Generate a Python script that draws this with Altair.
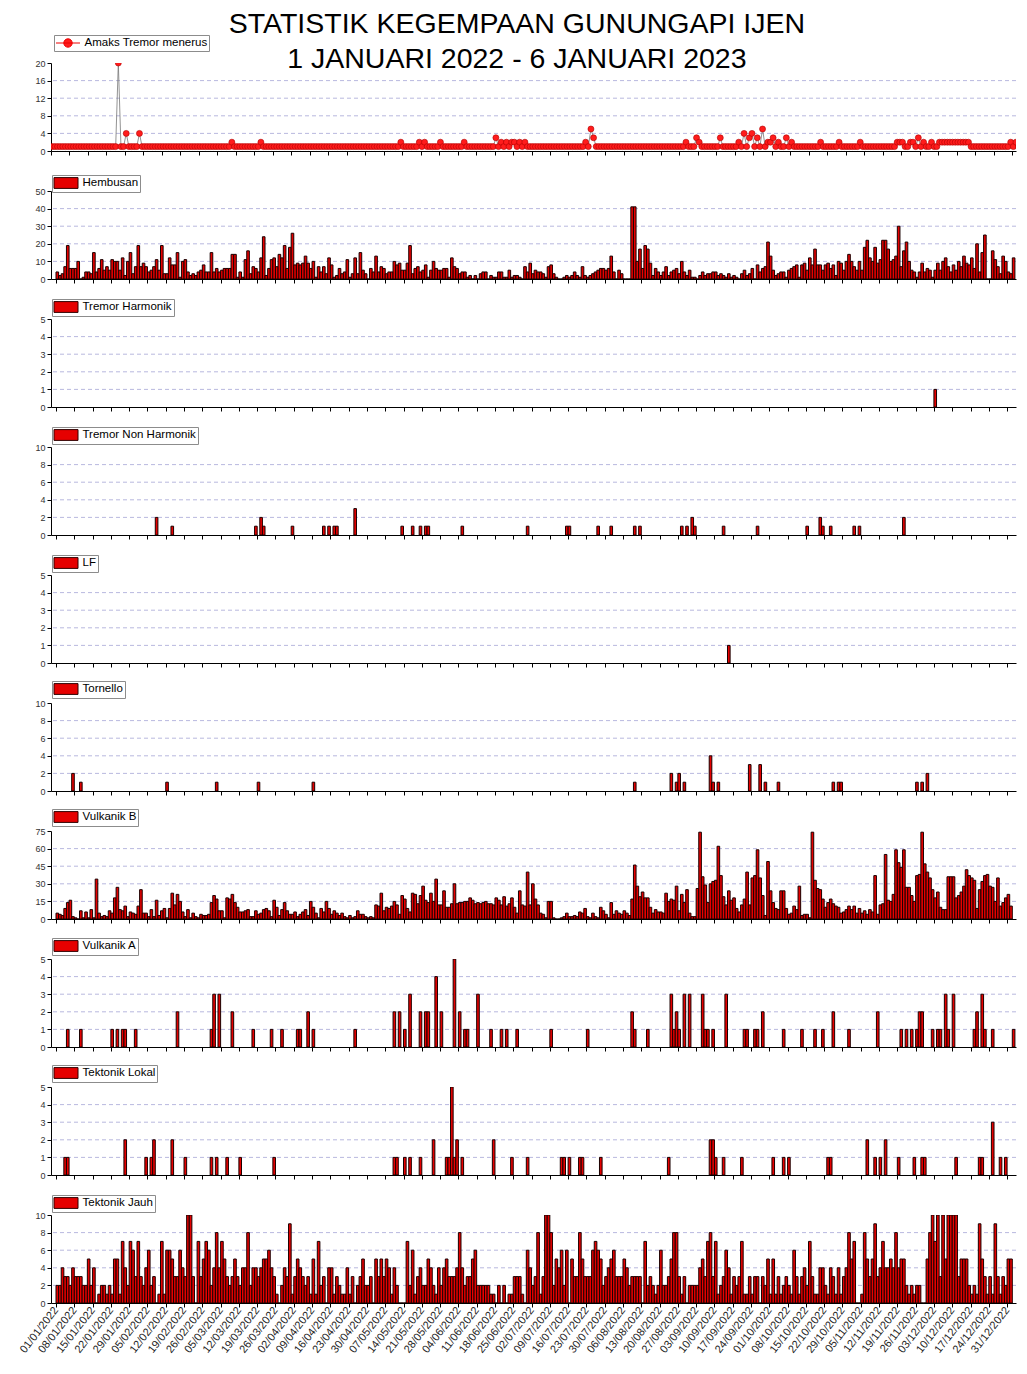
import altair as alt
import pandas as pd

START = "2022-01-01"

tick_labels = [
    "01/01/2022", "08/01/2022", "15/01/2022", "22/01/2022", "29/01/2022",
    "05/02/2022", "12/02/2022", "19/02/2022", "26/02/2022",
    "05/03/2022", "12/03/2022", "19/03/2022", "26/03/2022",
    "02/04/2022", "09/04/2022", "16/04/2022", "23/04/2022", "30/04/2022",
    "07/05/2022", "14/05/2022", "21/05/2022", "28/05/2022",
    "04/06/2022", "11/06/2022", "18/06/2022", "25/06/2022",
    "02/07/2022", "09/07/2022", "16/07/2022", "23/07/2022", "30/07/2022",
    "06/08/2022", "13/08/2022", "20/08/2022", "27/08/2022",
    "03/09/2022", "10/09/2022", "17/09/2022", "24/09/2022",
    "01/10/2022", "08/10/2022", "15/10/2022", "22/10/2022", "29/10/2022",
    "05/11/2022", "12/11/2022", "19/11/2022", "26/11/2022",
    "03/12/2022", "10/12/2022", "17/12/2022", "24/12/2022", "31/12/2022",
]

# ---- daily series (from 01/01/2022) ----
amaks = [
    1, 1, 1, 1, 1, 1, 1, 1, 1, 1,
    1, 1, 1, 1, 1, 1, 1, 1, 1, 1,
    1, 1, 1, 1, 1, 20, 1, 1, 4, 1,
    1, 1, 1, 4, 1, 1, 1, 1, 1, 1,
    1, 1, 1, 1, 1, 1, 1, 1, 1, 1,
    1, 1, 1, 1, 1, 1, 1, 1, 1, 1,
    1, 1, 1, 1, 1, 1, 1, 1, 2, 1,
    1, 1, 1, 1, 1, 1, 1, 1, 1, 2,
    1, 1, 1, 1, 1, 1, 1, 1, 1, 1,
    1, 1, 1, 1, 1, 1, 1, 1, 1, 1,
    1, 1, 1, 1, 1, 1, 1, 1, 1, 1,
    1, 1, 1, 1, 1, 1, 1, 1, 1, 1,
    1, 1, 1, 1, 1, 1, 1, 1, 1, 1,
    1, 1, 2, 1, 1, 1, 1, 1, 1, 2,
    1, 2, 1, 1, 1, 1, 1, 2, 1, 1,
    1, 1, 1, 1, 1, 1, 2, 1, 1, 1,
    1, 1, 1, 1, 1, 1, 1, 1, 3, 1,
    2, 1, 2, 1, 2, 2, 1, 2, 1, 2,
    1, 1, 1, 1, 1, 1, 1, 1, 1, 1,
    1, 1, 1, 1, 1, 1, 1, 1, 1, 1,
    1, 1, 2, 1, 5, 3, 1, 1, 1, 1,
    1, 1, 1, 1, 1, 1, 1, 1, 1, 1,
    1, 1, 1, 1, 1, 1, 1, 1, 1, 1,
    1, 1, 1, 1, 1, 1, 1, 1, 1, 1,
    2, 1, 1, 1, 3, 2, 1, 1, 1, 1,
    1, 1, 1, 3, 1, 1, 1, 1, 1, 1,
    2, 1, 4, 1, 3, 4, 1, 3, 1, 5,
    1, 2, 2, 3, 1, 2, 1, 1, 3, 1,
    2, 1, 1, 1, 1, 1, 1, 1, 1, 1,
    1, 2, 1, 1, 1, 1, 1, 1, 2, 1,
    1, 1, 1, 1, 1, 1, 2, 1, 1, 1,
    1, 1, 1, 1, 1, 1, 1, 1, 1, 1,
    2, 2, 2, 1, 1, 2, 2, 1, 3, 1,
    2, 1, 1, 2, 1, 1, 2, 2, 2, 2,
    2, 2, 2, 2, 2, 2, 2, 2, 1, 1,
    1, 1, 1, 1, 1, 1, 1, 1, 1, 1,
    1, 1, 1, 2, 1, 2, 1, 1,
]

hembusan = [
    4, 2, 3, 7, 19, 6, 6, 6, 10, 0,
    1, 4, 4, 3, 15, 4, 6, 11, 5, 7,
    5, 11, 10, 10, 5, 12, 2, 10, 15, 3,
    7, 19, 7, 9, 7, 4, 5, 7, 11, 5,
    19, 3, 3, 12, 8, 8, 15, 1, 10, 11,
    4, 2, 3, 2, 4, 5, 8, 4, 4, 15,
    4, 6, 4, 5, 6, 6, 6, 14, 14, 1,
    4, 1, 11, 16, 3, 7, 6, 4, 12, 24,
    2, 6, 11, 12, 7, 14, 12, 19, 6, 18,
    26, 8, 9, 8, 9, 13, 9, 6, 10, 1,
    7, 4, 7, 3, 12, 8, 1, 2, 6, 3,
    4, 11, 1, 3, 12, 3, 15, 5, 3, 0,
    6, 4, 13, 4, 7, 6, 3, 4, 4, 10,
    8, 9, 5, 5, 9, 19, 3, 6, 7, 4,
    5, 8, 1, 5, 10, 6, 5, 5, 6, 6,
    1, 12, 7, 6, 3, 4, 4, 1, 2, 0,
    2, 0, 3, 4, 4, 0, 2, 1, 1, 4,
    4, 1, 1, 5, 1, 2,
    2, 1, 0, 7, 4, 9, 3, 5, 4, 4,
    3, 1, 7, 8, 3, 1, 0, 0, 1, 2,
    1, 2, 4, 2, 1, 7, 2, 1, 2, 3,
    4, 5, 6, 6, 5, 6, 13, 4, 0, 5,
    3, 0, 0, 0, 41, 41, 10, 17, 6, 19,
    17, 9, 2, 6, 4, 2, 4, 7, 2, 4,
    5, 6, 3, 10, 4, 2, 5, 1, 1, 0,
    2, 4, 2, 3, 3, 4, 4, 2, 3, 2,
    1, 3, 1, 2, 1, 0, 3, 5, 2, 3,
    6, 0, 8, 4, 6, 7, 21, 13, 5, 2,
    3, 4, 4, 1, 5, 6, 7, 8, 1, 8,
    9, 5, 12, 8, 17, 8, 8, 5, 8, 9,
    6, 8, 2, 10, 9, 5, 10, 14, 10, 7,
    5, 10, 5, 18, 22, 12, 10, 18, 9, 11,
    22, 22, 17, 10, 11, 13, 30, 7, 16, 21,
    10, 5, 4, 1, 4, 9, 4, 6, 5, 1,
    5, 9, 5, 10, 12, 7, 4, 8, 5, 10,
    7, 13, 9, 8, 12, 6, 20, 4, 15, 25,
    0, 0, 16, 11, 7, 3, 13, 10, 4, 3,
    12,
]

vulkanik_b = [
    5, 4, 3, 9, 14, 16, 2, 1, 0, 7,
    1, 6, 1, 8, 1, 34, 5, 2, 3, 2,
    7, 5, 18, 27, 8, 7, 11, 2, 6, 5,
    4, 11, 25, 5, 5, 2, 8, 2, 16, 3,
    7, 9, 1, 9, 22, 12, 21, 15, 6, 2,
    8, 1, 5, 2, 1, 4, 3, 3, 4, 14,
    20, 17, 7, 7, 1, 18, 17, 21, 14, 10,
    6, 6, 7, 8, 2, 2, 7, 4, 5, 8,
    9, 7, 2, 16, 10, 3, 8, 14, 7, 4,
    4, 6, 2, 4, 6, 8, 3, 15, 10, 5,
    1, 9, 6, 15, 9, 4, 7, 5, 3, 5,
    2, 1, 3, 1, 2, 7, 4, 4, 2, 1,
    2, 1, 12, 11, 22, 7, 10, 9, 11, 15,
    12, 4, 20, 17, 9, 6, 22, 21, 13, 20,
    28, 16, 14, 22, 15, 34, 12, 12, 24, 10,
    10, 13, 30, 13, 14, 14, 15, 15, 18, 16,
    13, 14, 13, 14, 15, 13, 13, 12, 18, 16,
    12, 19, 11, 13, 18, 10,
    5, 24, 12, 11, 40, 12, 30, 17, 12, 5,
    4, 1, 15, 15, 1, 0, 0, 1, 2, 5,
    2, 2, 3, 2, 6, 5, 9, 2, 1, 5,
    2, 1, 10, 7, 4, 1, 14, 4, 7, 5,
    4, 7, 5, 3, 17, 46, 28, 19, 23, 18,
    18, 10, 5, 8, 6, 6, 5, 22, 15, 17,
    16, 28, 7, 21, 14, 25, 5, 2, 2, 26,
    74, 36, 29, 14, 30, 32, 33, 62, 37, 19,
    12, 24, 16, 18, 9, 6, 12, 17, 40, 12,
    35, 37, 59, 35, 20, 3, 49, 24, 14, 9,
    8, 24, 24, 9, 4, 5, 11, 8, 28, 3,
    4, 4, 1, 74, 33, 26, 25, 17, 10, 14,
    17, 13, 11, 10, 5, 6, 8, 11, 8, 11,
    5, 9, 5, 7, 4, 8, 6, 37, 4, 12,
    13, 55, 16, 15, 21, 59, 48, 44, 59, 27,
    27, 20, 15, 37, 38, 74, 47, 40, 35, 25,
    18, 23, 10, 8, 8, 36, 36, 36, 18, 20,
    23, 28, 42, 37, 35, 33, 9, 25, 32, 37,
    38, 28, 27, 15, 35, 11, 14, 18, 21, 11,
]

tektonik_jauh = [
    2, 2, 4, 3, 3, 2, 4, 3, 3, 3,
    2, 2, 5, 2, 4, 0, 1, 2, 2, 1,
    2, 1, 5, 5, 1, 7, 4, 2, 7, 6,
    3, 7, 3, 2, 4, 6, 2, 3, 0, 1,
    7, 1, 6, 6, 5, 3, 3, 6, 4, 3,
    10, 10, 3, 0, 7, 3, 5, 7, 6, 2,
    4, 8, 4, 7, 5, 3, 2, 3, 5, 3,
    2, 4, 4, 8, 2, 4, 4, 3, 4, 5,
    5, 6, 4, 3, 1, 0, 2, 4, 3, 9,
    1, 3, 5, 4, 3, 2, 3, 1, 5, 1,
    7, 2, 3, 0, 4, 4, 1, 3, 2, 1,
    1, 4, 1, 3, 0, 2, 3, 5, 2, 2,
    3, 0, 5, 3, 5, 3, 5, 4, 1, 4,
    2, 0, 0, 0, 7, 2, 6, 1, 3, 4,
    2, 2, 5, 4, 2, 1, 4, 2, 4, 5,
    3, 3, 3, 4, 8, 4, 2, 3, 3, 5,
    6, 2, 2, 2, 2, 2, 1, 1, 0, 2,
    0, 2, 0, 1, 1, 3,
    3, 3, 1, 0, 6, 4, 2, 3, 8, 1,
    3, 10, 10, 8, 2, 5, 4, 6, 2, 6,
    0, 5, 3, 3, 8, 5, 3, 3, 3, 6,
    7, 6, 5, 2, 3, 4, 5, 6, 3, 3,
    3, 5, 4, 2, 3, 3, 3, 3, 0, 7,
    2, 3, 2, 1, 2, 6, 2, 2, 3, 5,
    8, 8, 3, 1, 3, 0, 2, 2, 2, 2,
    4, 5, 3, 7, 8, 3, 7, 1, 2, 3,
    6, 4, 1, 3, 2, 3, 7, 1, 1, 3,
    1, 3, 3, 0, 3, 2, 5, 1, 5, 1,
    3, 1, 2, 3, 2, 1, 6, 3, 1, 3,
    4, 2, 7, 3, 1, 1, 4, 4, 2, 1,
    4, 3, 1, 4, 1, 3, 4, 8, 5, 7,
    0, 0, 1, 8, 5, 3, 5, 9, 3, 4,
    7, 4, 4, 5, 4, 8, 4, 5, 5, 2,
    1, 2, 1, 2, 2, 0, 0, 5, 8, 10,
    7, 10, 3, 10, 5, 10, 10, 10, 10, 3,
    5, 5, 5, 2, 1, 2, 1, 9, 5, 3,
    1, 3, 1, 9, 3, 1, 3, 2, 5, 5,
]

# ---- sparse series (days with events) ----
th_dates = ["2022-12-03"]
th_vals = [1]

tnh_dates = ["2022-02-08", "2022-02-14", "2022-03-18", "2022-03-20", "2022-03-21",
             "2022-04-01", "2022-04-13", "2022-04-15", "2022-04-17", "2022-04-18",
             "2022-04-25", "2022-05-13", "2022-05-17", "2022-05-20", "2022-05-22",
             "2022-05-23", "2022-06-05", "2022-06-30", "2022-07-15", "2022-07-16",
             "2022-07-27", "2022-08-01", "2022-08-10", "2022-08-12", "2022-08-28",
             "2022-08-30", "2022-09-01", "2022-09-02", "2022-09-13", "2022-09-26",
             "2022-10-15", "2022-10-20", "2022-10-21", "2022-10-24", "2022-11-02",
             "2022-11-04", "2022-11-21"]
tnh_vals = [2, 1, 1, 2, 1, 1, 1, 1, 1, 1, 3, 1, 1, 1, 1, 1, 1, 1, 1, 1,
            1, 1, 1, 1, 1, 1, 2, 1, 1, 1, 1, 2, 1, 1, 1, 1, 2]

lf_dates = ["2022-09-15"]
lf_vals = [1]

tornello_dates = ["2022-01-07", "2022-01-10", "2022-02-12", "2022-03-03", "2022-03-19",
                  "2022-04-09", "2022-08-10", "2022-08-24", "2022-08-26", "2022-08-27",
                  "2022-08-29", "2022-09-08", "2022-09-09", "2022-09-11", "2022-09-23",
                  "2022-09-27", "2022-09-29", "2022-10-04", "2022-10-25", "2022-10-27",
                  "2022-10-28", "2022-11-26", "2022-11-28", "2022-11-30"]
tornello_vals = [2, 1, 1, 1, 1, 1, 1, 2, 1, 2, 1, 4, 1, 1, 3, 3, 1, 1, 1, 1, 1, 1, 1, 2]

va_dates = ["2022-01-05", "2022-01-10", "2022-01-22", "2022-01-24", "2022-01-26",
            "2022-01-27", "2022-01-31", "2022-02-16", "2022-03-01", "2022-03-02",
            "2022-03-04", "2022-03-09", "2022-03-17", "2022-03-24", "2022-03-28",
            "2022-04-03", "2022-04-04", "2022-04-07", "2022-04-09", "2022-04-25",
            "2022-05-10", "2022-05-12", "2022-05-14", "2022-05-16", "2022-05-20",
            "2022-05-22", "2022-05-23", "2022-05-26", "2022-05-28", "2022-06-02",
            "2022-06-04", "2022-06-06", "2022-06-07", "2022-06-11", "2022-06-16",
            "2022-06-20", "2022-06-22", "2022-06-26", "2022-07-09", "2022-07-23",
            "2022-08-09", "2022-08-10", "2022-08-15", "2022-08-24", "2022-08-25",
            "2022-08-26", "2022-08-27", "2022-08-29", "2022-08-31", "2022-09-05",
            "2022-09-06", "2022-09-07", "2022-09-09", "2022-09-14", "2022-09-21",
            "2022-09-22", "2022-09-25", "2022-09-26", "2022-09-28", "2022-10-06",
            "2022-10-13", "2022-10-18", "2022-10-21", "2022-10-25", "2022-10-31",
            "2022-11-11", "2022-11-20", "2022-11-22", "2022-11-24", "2022-11-26",
            "2022-11-27", "2022-11-28", "2022-12-02", "2022-12-04", "2022-12-05",
            "2022-12-07", "2022-12-08", "2022-12-10", "2022-12-18", "2022-12-19",
            "2022-12-21", "2022-12-22", "2022-12-25", "2023-01-02"]
va_vals = [1, 1, 1, 1, 1, 1, 1, 2, 1, 3,
           3, 2, 1, 1, 1, 1, 1, 2, 1, 1,
           2, 2, 1, 3, 2, 2, 2, 4, 2, 5,
           2, 1, 1, 3, 1, 1, 1, 1, 1, 1,
           2, 1, 1, 3, 1, 2, 1, 3, 3, 3,
           1, 1, 1, 3, 1, 1, 1, 1, 2, 1,
           1, 1, 1, 2, 1, 2, 1, 1, 1, 1,
           2, 2, 1, 1, 1, 3, 1, 3, 1, 2,
           3, 1, 1, 1]

tl_dates = ["2022-01-04", "2022-01-05", "2022-01-27", "2022-02-04", "2022-02-06",
            "2022-02-07", "2022-02-14", "2022-02-19", "2022-03-01", "2022-03-03",
            "2022-03-07", "2022-03-12", "2022-03-25", "2022-05-10", "2022-05-11",
            "2022-05-14", "2022-05-16", "2022-05-20", "2022-05-25", "2022-05-30",
            "2022-05-31", "2022-06-01", "2022-06-02", "2022-06-03", "2022-06-05",
            "2022-06-17", "2022-06-24", "2022-06-30", "2022-07-13", "2022-07-14",
            "2022-07-16", "2022-07-20", "2022-07-21", "2022-07-28", "2022-08-23",
            "2022-09-08", "2022-09-09", "2022-09-10", "2022-09-13", "2022-09-20",
            "2022-10-02", "2022-10-06", "2022-10-08", "2022-10-23", "2022-10-24",
            "2022-11-07", "2022-11-10", "2022-11-12", "2022-11-14", "2022-11-19",
            "2022-11-25", "2022-11-28", "2022-11-29", "2022-12-11", "2022-12-20",
            "2022-12-21", "2022-12-25", "2022-12-28", "2022-12-30"]
tl_vals = [1, 1, 2, 1, 1, 2, 2, 1, 1, 1,
           1, 1, 1, 1, 1, 1, 1, 1, 2, 1,
           1, 5, 1, 2, 1, 2, 1, 1, 1, 1,
           1, 1, 1, 1, 1, 2, 2, 1, 1, 1,
           1, 1, 1, 1, 1, 2, 1, 1, 2, 1,
           1, 1, 1, 1, 1, 1, 3, 1, 1]


def daily(vals, name):
    d = pd.date_range(START, periods=len(vals), freq="D")
    return pd.DataFrame({"date": d, "end": d + pd.Timedelta(days=1),
                         "mid": d + pd.Timedelta(hours=12), "value": vals, "series": name})


def sparse(dates, vals, name):
    d = pd.to_datetime(pd.Series(dates))
    return pd.DataFrame({"date": d, "end": d + pd.Timedelta(days=1),
                         "mid": d + pd.Timedelta(hours=12), "value": vals, "series": name})


W, H = 965, 88
FONT = "Liberation Sans"
XDOM = [alt.DateTime(year=2022, month=1, date=1),
        alt.DateTime(year=2023, month=1, date=1, hours=12)]
tick_dt = [alt.DateTime(year=int(s[6:]), month=int(s[3:5]), date=int(s[:2])) for s in tick_labels]

RECT = "M-2,-0.9L2,-0.9L2,0.9L-2,0.9Z"
LINE_DOT = "M-2,0L2,0M-0.7,0A0.7,0.7,0,1,0,0.7,0A0.7,0.7,0,1,0,-0.7,0Z"


def x_enc(field, last):
    return alt.X(f"{field}:T", scale=alt.Scale(domain=XDOM),
                 axis=alt.Axis(values=tick_dt, format="%d/%m/%Y", title=None, labels=last,
                               grid=False, tickSize=4, labelAngle=308, labelAlign="right",
                               labelBaseline="middle", labelFontSize=11, labelOverlap=False,
                               labelPadding=1, labelFlush=False, labelBound=False,
                               labelColor="#222"))


def y_enc(ymax, ticks):
    return alt.Y("value:Q", scale=alt.Scale(domain=[0, ymax], nice=False, zero=True),
                 axis=alt.Axis(values=ticks, title=None, grid=False, tickSize=4,
                               labelFontSize=9, labelPadding=2, labelColor="#333"))


def legend(ly, lx=1, symbol=RECT, stroke="#300000"):
    return alt.Legend(orient="none", legendX=lx, legendY=ly, title=None,
                      symbolType=symbol, symbolSize=144, symbolOffset=6, labelOffset=10,
                      padding=1.5, strokeColor="#8c8c8c", fillColor="white",
                      labelFontSize=11.5, labelFont=FONT, labelColor="black",
                      symbolStrokeColor=stroke, symbolStrokeWidth=1, labelLimit=400)


def grid_layer(ymax, ticks):
    g = pd.DataFrame({"value": [t for t in ticks if 0 < t < ymax]})
    return alt.Chart(g).mark_rule(strokeDash=[4, 3], color="#a6a6d6", strokeWidth=0.8).encode(
        y=y_enc(ymax, ticks))


def bar_panel(df, ymax, ticks, ly, last=False):
    bars = alt.Chart(df).mark_bar(stroke="#1a0000", strokeWidth=1.0, clip=True,
                                  orient="vertical").encode(
        x=x_enc("date", last), x2="end:T",
        y=y_enc(ymax, ticks), y2=alt.datum(0),
        color=alt.Color("series:N", scale=alt.Scale(range=["#e60000"]), legend=legend(ly)),
    )
    return alt.layer(grid_layer(ymax, ticks), bars).properties(width=W, height=H)


# Amaks panel
amaks_df = daily(amaks, "Amaks Tremor menerus")
am_ticks = [0, 4, 8, 12, 16, 20]
am_line = alt.Chart(amaks_df).mark_line(color="#777777", strokeWidth=0.8, clip=True).encode(
    x=x_enc("mid", False), y=y_enc(20, am_ticks))
am_pts = alt.Chart(amaks_df).mark_point(filled=True, size=36, opacity=1, stroke="#b00000",
                                        strokeWidth=0.6, clip=True).encode(
    x=x_enc("mid", False), y=y_enc(20, am_ticks),
    color=alt.Color("series:N", scale=alt.Scale(range=["#ff1c1c"]),
                    legend=legend(-28, lx=3, symbol=LINE_DOT, stroke="#ee0000")))
p_amaks = alt.layer(grid_layer(20, am_ticks), am_line, am_pts).properties(width=W, height=H)

panels = [
    p_amaks,
    bar_panel(daily(hembusan, "Hembusan"), 50, [0, 10, 20, 30, 40, 50], -16),
    bar_panel(sparse(th_dates, th_vals, "Tremor Harmonik"), 5, [0, 1, 2, 3, 4, 5], -20),
    bar_panel(sparse(tnh_dates, tnh_vals, "Tremor Non Harmonik"), 10, [0, 2, 4, 6, 8, 10], -20),
    bar_panel(sparse(lf_dates, lf_vals, "LF"), 5, [0, 1, 2, 3, 4, 5], -20),
    bar_panel(sparse(tornello_dates, tornello_vals, "Tornello"), 10, [0, 2, 4, 6, 8, 10], -22),
    bar_panel(daily(vulkanik_b, "Vulkanik B"), 75, [0, 15, 30, 45, 60, 75], -22),
    bar_panel(sparse(va_dates, va_vals, "Vulkanik A"), 5, [0, 1, 2, 3, 4, 5], -21),
    bar_panel(sparse(tl_dates, tl_vals, "Tektonik Lokal"), 5, [0, 1, 2, 3, 4, 5], -22),
    bar_panel(daily(tektonik_jauh, "Tektonik Jauh"), 10, [0, 2, 4, 6, 8, 10], -20, last=True),
]

chart = alt.vconcat(*panels, spacing=40, bounds="flush").resolve_scale(
    color="independent", y="independent", x="independent"
).resolve_legend(color="independent").properties(
    padding={"left": 9, "top": 2, "right": 0, "bottom": 0},
    title=alt.TitleParams(
        text=["STATISTIK KEGEMPAAN GUNUNGAPI IJEN", "1 JANUARI 2022 - 6 JANUARI 2023"],
        fontSize=28.5, font=FONT, fontWeight="normal", color="black",
        anchor="middle", lineHeight=35, offset=-39),
).configure_view(stroke=None).configure_axis(
    domainColor="black", tickColor="black", labelFont=FONT, domainWidth=1
).configure_legend(strokeWidth=1)

chart.save("out.html", embed_options={"renderer": "svg", "actions": False})
